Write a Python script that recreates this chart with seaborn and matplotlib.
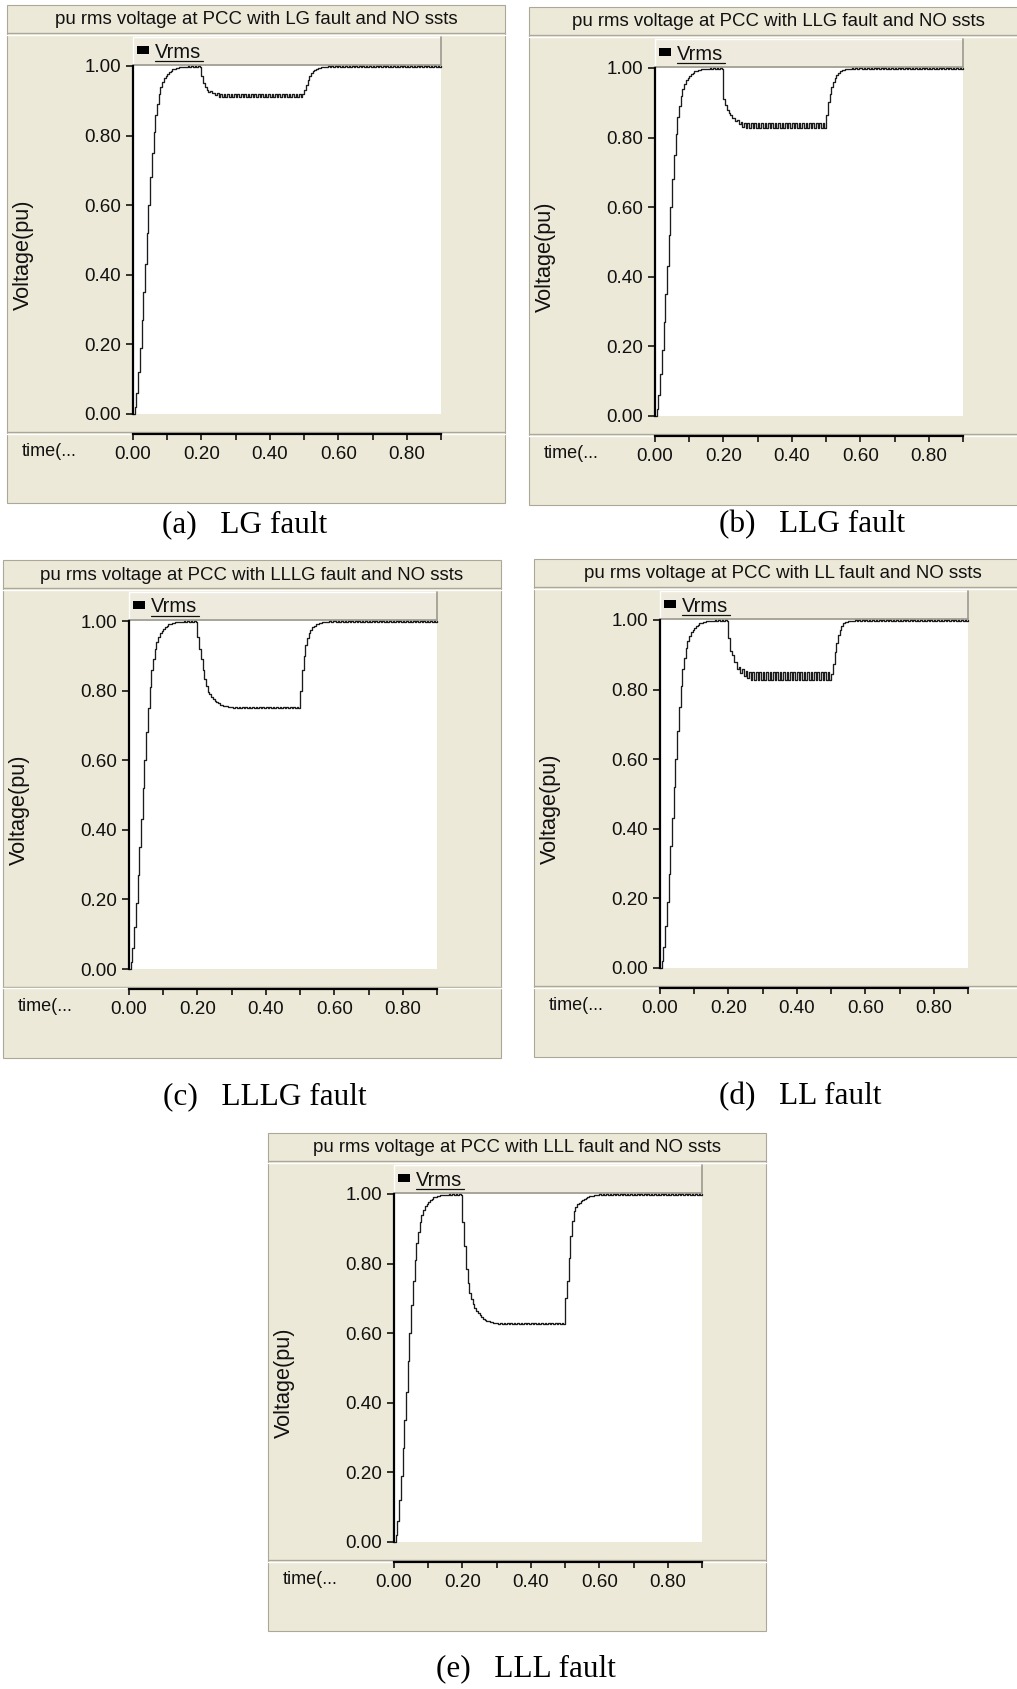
import numpy as np
import pandas as pd
import matplotlib
matplotlib.use("Agg")
import matplotlib.pyplot as plt
from matplotlib.patches import Rectangle
from matplotlib.lines import Line2D
from matplotlib.ticker import FormatStrFormatter
import seaborn as sns

# ---------------------------------------------------------------------------
# PSCAD rms voltage at the PCC (pu), sampled every 5 ms from 0.000 s to 0.900 s
# ---------------------------------------------------------------------------
SAMPLE_STEP_S = 0.005

# 0.000 - 0.195 s : start-up transient (identical for every case)
startup_pu = [
    0.000, 0.020, 0.060, 0.120, 0.190, 0.270, 0.350, 0.430, 0.520, 0.600,
    0.680, 0.750, 0.810, 0.860, 0.890, 0.920, 0.940, 0.955, 0.965, 0.972,
    0.978, 0.983, 0.987, 0.990, 0.992, 0.994, 0.995, 0.996, 0.997, 0.996,
    0.998, 0.996, 0.999, 0.997, 1.000, 0.997, 1.000, 0.997, 1.000, 0.997,
]

# 0.600 - 0.900 s : post-fault steady state
steady_pu = [
    1.000, 0.997, 1.000, 0.997, 1.000, 0.997, 1.000, 0.997, 1.000, 0.997,
    1.000, 0.997, 1.000, 0.997, 1.000, 0.997, 1.000, 0.997, 1.000, 0.997,
    1.000, 0.997, 1.000, 0.997, 1.000, 0.997, 1.000, 0.997, 1.000, 0.997,
    1.000, 0.997, 1.000, 0.997, 1.000, 0.997, 1.000, 0.997, 1.000, 0.997,
    1.000, 0.997, 1.000, 0.997, 1.000, 0.997, 1.000, 0.997, 1.000, 0.997,
    1.000, 0.997, 1.000, 0.997, 1.000, 0.997, 1.000, 0.997, 1.000, 0.997,
    1.000,
]

# 0.200 - 0.495 s : during the fault
lg_fault_pu = [
    0.970, 0.950, 0.940, 0.932, 0.926, 0.927, 0.921, 0.923, 0.916, 0.921,
    0.912, 0.920, 0.911, 0.920, 0.911, 0.920, 0.911, 0.920, 0.911, 0.920,
    0.911, 0.920, 0.911, 0.920, 0.911, 0.920, 0.911, 0.920, 0.911, 0.920,
    0.911, 0.920, 0.911, 0.920, 0.911, 0.920, 0.911, 0.920, 0.911, 0.920,
    0.911, 0.920, 0.911, 0.920, 0.911, 0.920, 0.911, 0.920, 0.911, 0.920,
    0.911, 0.920, 0.911, 0.920, 0.911, 0.920, 0.911, 0.920, 0.911, 0.920,
]
llg_fault_pu = [
    0.910, 0.895, 0.880, 0.872, 0.866, 0.856, 0.857, 0.847, 0.851, 0.839,
    0.846, 0.831, 0.843, 0.828, 0.842, 0.828, 0.842, 0.828, 0.842, 0.828,
    0.842, 0.828, 0.842, 0.828, 0.842, 0.828, 0.842, 0.828, 0.842, 0.828,
    0.842, 0.828, 0.842, 0.828, 0.842, 0.828, 0.842, 0.828, 0.842, 0.828,
    0.842, 0.828, 0.842, 0.828, 0.842, 0.828, 0.842, 0.828, 0.842, 0.828,
    0.842, 0.828, 0.842, 0.828, 0.842, 0.828, 0.842, 0.828, 0.842, 0.828,
]
lllg_fault_pu = [
    0.955, 0.920, 0.890, 0.860, 0.833, 0.812, 0.797, 0.790, 0.783, 0.776,
    0.771, 0.767, 0.763, 0.760, 0.758, 0.757, 0.756, 0.755, 0.754, 0.753,
    0.752, 0.750, 0.752, 0.750, 0.752, 0.750, 0.752, 0.750, 0.752, 0.750,
    0.752, 0.750, 0.752, 0.750, 0.752, 0.750, 0.752, 0.750, 0.752, 0.750,
    0.752, 0.750, 0.752, 0.750, 0.752, 0.750, 0.752, 0.750, 0.752, 0.750,
    0.752, 0.750, 0.752, 0.750, 0.752, 0.750, 0.752, 0.750, 0.752, 0.750,
]
ll_fault_pu = [
    0.949, 0.911, 0.900, 0.880, 0.878, 0.860, 0.866, 0.848, 0.858, 0.838,
    0.854, 0.833, 0.852, 0.829, 0.851, 0.829, 0.851, 0.829, 0.851, 0.829,
    0.851, 0.829, 0.851, 0.829, 0.851, 0.829, 0.851, 0.829, 0.851, 0.829,
    0.851, 0.829, 0.851, 0.829, 0.851, 0.829, 0.851, 0.829, 0.851, 0.829,
    0.851, 0.829, 0.851, 0.829, 0.851, 0.829, 0.851, 0.829, 0.851, 0.829,
    0.851, 0.829, 0.851, 0.829, 0.851, 0.829, 0.851, 0.829, 0.851, 0.829,
]
lll_fault_pu = [
    0.920, 0.850, 0.785, 0.745, 0.715, 0.697, 0.684, 0.673, 0.664, 0.657,
    0.651, 0.646, 0.642, 0.639, 0.636, 0.634, 0.632, 0.631, 0.630, 0.629,
    0.628, 0.626, 0.628, 0.626, 0.628, 0.626, 0.628, 0.626, 0.628, 0.626,
    0.628, 0.626, 0.628, 0.626, 0.628, 0.626, 0.628, 0.626, 0.628, 0.626,
    0.628, 0.626, 0.628, 0.626, 0.628, 0.626, 0.628, 0.626, 0.628, 0.626,
    0.628, 0.626, 0.628, 0.626, 0.628, 0.626, 0.628, 0.626, 0.628, 0.626,
]

# 0.500 - 0.595 s : recovery after fault clearing
lg_recovery_pu = [
    0.930, 0.945, 0.960, 0.970, 0.979, 0.985, 0.989, 0.991, 0.993, 0.995,
    0.996, 0.997, 0.998, 0.997, 0.999, 0.997, 1.000, 0.997, 1.000, 0.997,
]
llg_recovery_pu = [
    0.866, 0.903, 0.925, 0.945, 0.960, 0.972, 0.980, 0.986, 0.990, 0.993,
    0.995, 0.996, 0.997, 0.998, 0.997, 0.999, 0.997, 1.000, 0.997, 0.999,
]
lllg_recovery_pu = [
    0.800, 0.860, 0.900, 0.930, 0.950, 0.965, 0.975, 0.982, 0.987, 0.990,
    0.992, 0.994, 0.995, 0.996, 0.997, 0.998, 0.997, 0.999, 0.997, 0.999,
]
ll_recovery_pu = [
    0.845, 0.874, 0.907, 0.935, 0.958, 0.972, 0.983, 0.990, 0.993, 0.995,
    0.996, 0.997, 0.998, 0.997, 0.999, 0.997, 1.000, 0.997, 1.000, 0.997,
]
lll_recovery_pu = [
    0.700, 0.750, 0.817, 0.879, 0.922, 0.950, 0.962, 0.970, 0.975, 0.980,
    0.984, 0.987, 0.989, 0.991, 0.993, 0.994, 0.995, 0.996, 0.997, 0.998,
]

fault_types = ["LG", "LLG", "LLLG", "LL", "LLL"]
panel_letters = ["a", "b", "c", "d", "e"]
fault_segments = [lg_fault_pu, llg_fault_pu, lllg_fault_pu, ll_fault_pu, lll_fault_pu]
recovery_segments = [lg_recovery_pu, llg_recovery_pu, lllg_recovery_pu,
                     ll_recovery_pu, lll_recovery_pu]

y_ticks = [0.0, 0.2, 0.4, 0.6, 0.8, 1.0]
x_major_ticks = [0.0, 0.2, 0.4, 0.6, 0.8]
x_minor_ticks = [0.1, 0.3, 0.5, 0.7, 0.9]

# long-form table of all five traces
frames = []
for ftype, fseg, rseg in zip(fault_types, fault_segments, recovery_segments):
    v = startup_pu + fseg + rseg + steady_pu
    t = np.round(np.arange(len(v)) * SAMPLE_STEP_S, 3)
    frames.append(pd.DataFrame({"time": t, "Vrms": v, "fault": ftype}))
data = pd.DataFrame(pd.concat(frames, ignore_index=True))

# ---------------------------------------------------------------------------
# figure layout (pixel geometry, origin at the top-left corner)
# ---------------------------------------------------------------------------
sns.set_theme(style="ticks")
plt.rcParams["font.family"] = ["Liberation Sans", "DejaVu Sans"]

W, H = 1017, 1689
fig = plt.figure(figsize=(W / 100, H / 100), dpi=100, facecolor="white")

BEIGE = "#ECE9D8"
LEGEND_BG = "#EEEBDE"
EDGE = "#ACA899"
FRAME = 498


def fx(x):
    return x / W


def fy(y):
    return 1 - y / H


def add_rect(x, y, w, h, **kw):
    fig.add_artist(Rectangle((fx(x), fy(y + h)), w / W, h / H,
                             transform=fig.transFigure, **kw))


def add_line(xs, ys, **kw):
    fig.add_artist(Line2D([fx(v) for v in xs], [fy(v) for v in ys],
                          transform=fig.transFigure, **kw))


# frame top-left corners and caption centres
panel_origin = [(7, 5), (529, 7), (3, 560), (534, 559), (268, 1133)]
caption_pos = [(245, 525), (812, 525), (265, 1097), (800, 1097), (526, 1669)]


def draw_panel(idx):
    X, Y = panel_origin[idx]
    ftype = fault_types[idx]

    # window body
    add_rect(X, Y, FRAME, FRAME, facecolor=BEIGE, edgecolor=EDGE, lw=0.8, zorder=-3)

    # title bar
    add_line([X, X + FRAME], [Y + 28, Y + 28], color=EDGE, lw=1.0, zorder=-2)
    add_line([X, X + FRAME], [Y + 29.5, Y + 29.5], color="white", lw=1.0, zorder=-2)
    fig.text(fx(X + 249), fy(Y + 15),
             f"pu rms voltage at PCC with {ftype} fault and NO ssts",
             ha="center", va="center", fontsize=13.4, color="#111111")

    # legend strip above the plot area
    add_rect(X + 126, Y + 32, 308, 28, facecolor=LEGEND_BG, edgecolor="none", zorder=-2)
    add_line([X + 126, X + 434], [Y + 32, Y + 32], color="white", lw=1.0, zorder=-1)
    add_line([X + 126, X + 126], [Y + 32, Y + 60], color="white", lw=1.0, zorder=-1)
    add_line([X + 434, X + 434], [Y + 32, Y + 60], color="#9C9A8E", lw=1.2, zorder=-1)
    add_line([X + 126, X + 434], [Y + 60, Y + 60], color="#9C9A8E", lw=1.2, zorder=-1)
    add_rect(X + 130, Y + 41, 12, 8, facecolor="black", edgecolor="none", zorder=-1)
    fig.text(fx(X + 148), fy(Y + 47), "Vrms", ha="left", va="center",
             fontsize=14.4, color="#111111")
    add_line([X + 148, X + 196], [Y + 56, Y + 56], color="#111111", lw=0.9, zorder=-1)

    # separator of the time-axis strip
    add_line([X, X + FRAME], [Y + 427, Y + 427], color=EDGE, lw=1.0, zorder=-2)
    add_line([X, X + FRAME], [Y + 428.5, Y + 428.5], color="white", lw=1.0, zorder=-2)
    fig.text(fx(X + 15), fy(Y + 446), "time(...", ha="left", va="center",
             fontsize=13, color="#111111")

    # y-axis title
    fig.text(fx(X + 16), fy(Y + 250), "Voltage(pu)", rotation=90,
             ha="center", va="center", fontsize=15.6, color="#111111")

    # plot area
    ax = fig.add_axes([fx(X + 126), fy(Y + 409), 308 / W, 348 / H])
    ax.set_facecolor("white")
    sub = data[data["fault"] == ftype]
    sns.lineplot(data=sub, x="time", y="Vrms", ax=ax, estimator=None,
                 drawstyle="steps-post", color="#1c1c1c", linewidth=0.95,
                 clip_on=False)

    ax.set_xlim(0.0, 0.9)
    ax.set_ylim(0.0, 1.0)
    ax.set_xlabel("")
    ax.set_ylabel("")
    ax.set_yticks(y_ticks)
    ax.set_xticks(x_major_ticks)
    ax.set_xticks(x_minor_ticks, minor=True)
    ax.yaxis.set_major_formatter(FormatStrFormatter("%.2f"))
    ax.xaxis.set_major_formatter(FormatStrFormatter("%.2f"))

    for side in ("top", "right"):
        ax.spines[side].set_visible(False)
    ax.spines["left"].set_linewidth(1.6)
    ax.spines["left"].set_color("black")
    ax.spines["bottom"].set_linewidth(1.6)
    ax.spines["bottom"].set_color("black")
    ax.spines["bottom"].set_position(("outward", 14.4))

    ax.tick_params(axis="y", direction="out", length=5.2, width=1.1, pad=3.5,
                   labelsize=13.6, colors="black", labelcolor="#111111")
    ax.tick_params(axis="x", which="both", direction="out", length=4.3, width=1.1,
                   pad=4.2, labelsize=13.6, colors="black", labelcolor="#111111")

    # caption under the window
    cx, cy = caption_pos[idx]
    fig.text(fx(cx), fy(cy), f"({panel_letters[idx]})   {ftype} fault",
             ha="center", va="center", fontsize=22.5,
             family=["Liberation Serif", "DejaVu Serif"], color="black")


for i in range(len(fault_types)):
    draw_panel(i)

fig.savefig("out.png", dpi=100, facecolor="white")
